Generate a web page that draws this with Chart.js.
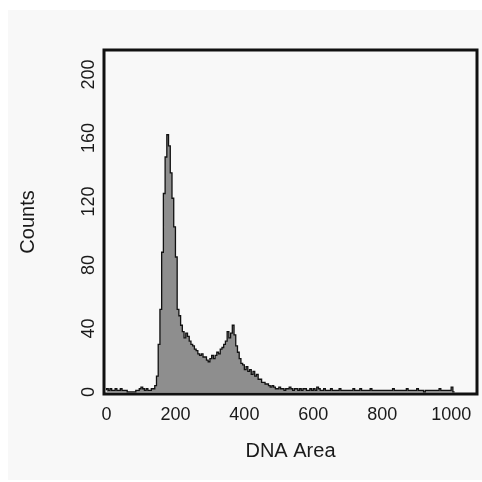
<!DOCTYPE html>
<html>
<head>
<meta charset="utf-8">
<script src="https://cdn.jsdelivr.net/npm/chart.js@4.4.1/dist/chart.umd.min.js"></script>
<style>
  html, body { margin: 0; padding: 0; background: #ffffff; }
  #wrap { width: 482px; height: 482px; }
</style>
</head>
<body>
<div id="wrap"><canvas id="hist" width="482" height="482"></canvas></div>
<script>
// histogram bins, 5 units wide, starting at 0
const binWidth = 5;
const counts = [
  // 0 - 95
  1, 2, 1, 2, 1, 1, 2, 1, 1, 2, 1, 1, 1, 0, 0, 0, 0, 0, 1, 1,
  // 100 - 195
  2, 3, 2, 1, 2, 1, 1, 2, 2, 4, 10, 30, 52, 88, 125, 148, 162, 155, 138, 122,
  // 200 - 295
  104, 85, 52, 48, 42, 38, 34, 37, 35, 32, 30, 29, 27, 26, 24, 23, 24, 22, 22, 20,
  // 300 - 395
  19, 21, 23, 21, 23, 25, 24, 27, 28, 30, 32, 38, 34, 37, 42, 36, 29, 25, 21, 18,
  // 400 - 495
  17, 14, 16, 13, 14, 11, 13, 10, 11, 8, 8, 6, 6, 5, 5, 4, 3, 4, 3, 2,
  // 500 - 595
  2, 3, 2, 2, 1, 2, 2, 3, 2, 1, 2, 2, 1, 2, 1, 2, 2, 1, 1, 2,
  // 600 - 695
  1, 2, 1, 3, 2, 1, 1, 2, 1, 1, 1, 2, 1, 1, 1, 1, 2, 1, 1, 1,
  // 700 - 795
  1, 1, 1, 1, 2, 1, 1, 1, 2, 1, 1, 1, 1, 1, 2, 1, 1, 1, 1, 1,
  // 800 - 895
  1, 1, 1, 1, 1, 1, 1, 2, 1, 1, 1, 1, 1, 1, 1, 2, 1, 1, 1, 1,
  // 900 - 995
  1, 2, 1, 1, 1, 0, 1, 1, 1, 1, 1, 1, 1, 1, 2, 1, 1, 1, 1, 1,
  // 1000 - 1010
  1, 3, 0
];
const xTicks = [0, 200, 400, 600, 800, 1000];
const yTicks = [0, 40, 80, 120, 160, 200];
const xTitle = 'DNA Area';
const yTitle = 'Counts';

const points = counts.map((c, i) => ({ x: i * binWidth, y: c }));

const tickFont = { family: '"Liberation Sans", Arial, sans-serif', size: 18 };
const titleFont = { family: '"Liberation Sans", Arial, sans-serif', size: 20 };

// light panel behind everything, and the black frame round the plot
const panelBg = {
  id: 'panelBg',
  beforeDraw(chart) {
    const c = chart.ctx;
    c.save();
    c.fillStyle = '#f8f8f8';
    c.fillRect(8, 10, 474, 470);
    c.restore();
  }
};
const frame = {
  id: 'frame',
  afterDatasetsDraw(chart) {
    const a = chart.chartArea;
    const c = chart.ctx;
    c.save();
    c.strokeStyle = '#111';
    c.lineWidth = 3;
    c.strokeRect(a.left, a.top, a.right - a.left, a.bottom - a.top);
    c.restore();
  }
};

new Chart(document.getElementById('hist'), {
  type: 'line',
  data: {
    datasets: [{
      data: points,
      stepped: 'after',
      fill: 'origin',
      backgroundColor: '#8e8e8e',
      borderColor: '#111',
      borderWidth: 1.3,
      pointRadius: 0
    }]
  },
  options: {
    responsive: false,
    animation: false,
    layout: { padding: { top: 50, right: 5, bottom: 0, left: 0 } },
    plugins: { legend: { display: false }, tooltip: { enabled: false } },
    scales: {
      x: {
        type: 'linear',
        min: -7.3,
        max: 1075,
        grid: { display: false, drawTicks: false },
        border: { display: false },
        afterBuildTicks: s => { s.ticks = xTicks.map(v => ({ value: v })); },
        afterFit: s => { s.height = 88; },
        ticks: { color: '#1a1a1a', font: tickFont, padding: 10, maxRotation: 0, callback: v => String(v) },
        title: { display: true, text: xTitle, color: '#1a1a1a', font: titleFont, padding: { top: 0, bottom: 19 } }
      },
      y: {
        min: -1.3,
        max: 215.4,
        grid: { display: false, drawTicks: false },
        border: { display: false },
        afterBuildTicks: s => { s.ticks = yTicks.map(v => ({ value: v })); },
        afterFit: s => { s.width = 104; },
        ticks: { color: '#1a1a1a', font: tickFont, padding: 0, minRotation: 90, maxRotation: 90, crossAlign: 'center', callback: v => String(v) },
        title: { display: true, text: yTitle, color: '#1a1a1a', font: titleFont, padding: { top: 16, bottom: 0 } }
      }
    }
  },
  plugins: [panelBg, frame]
});
</script>
</body>
</html>
